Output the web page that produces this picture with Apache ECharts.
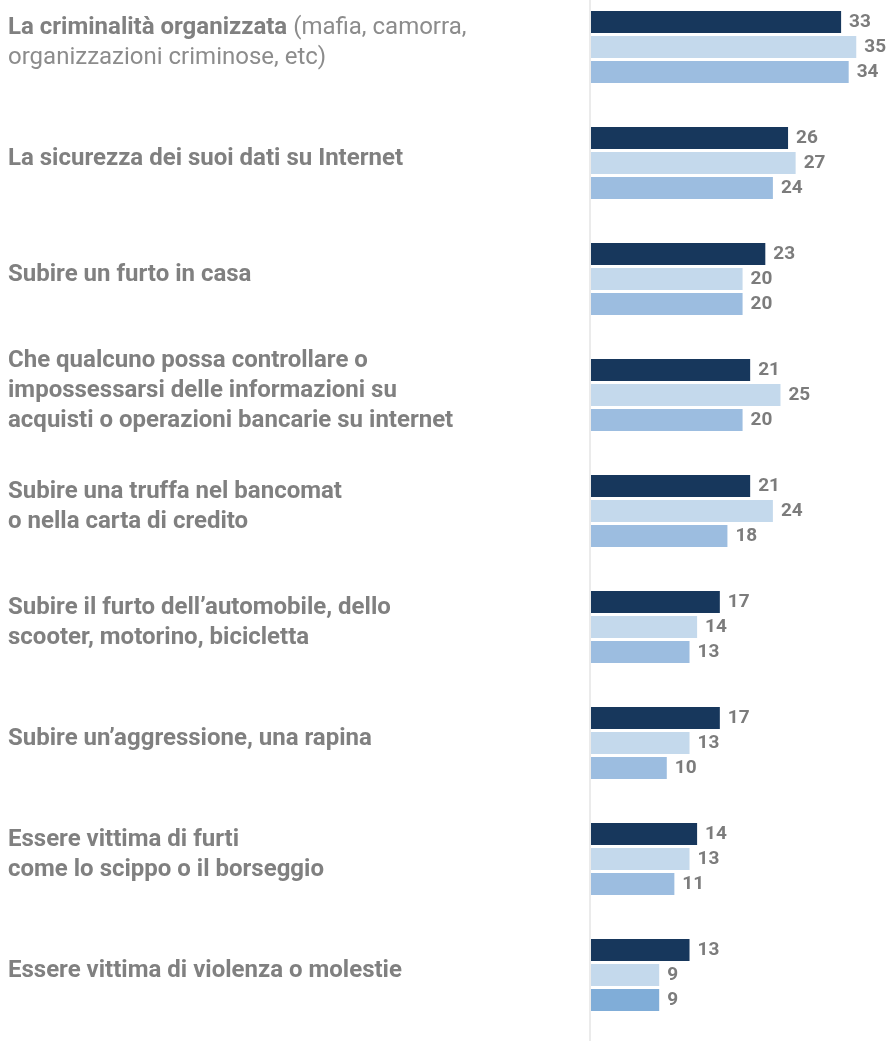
<!DOCTYPE html>
<html>
<head>
<meta charset="utf-8">
<script src="https://cdn.jsdelivr.net/npm/echarts@6/dist/echarts.min.js"></script>
<style>
  html, body { margin: 0; padding: 0; background: #ffffff; overflow: hidden; }
  body { position: relative; width: 886px; height: 1041px; }
  /* chart canvas starts slightly above the page so the first band sits near the top edge */
  #chart { position: absolute; left: 0; top: -11px; width: 886px; height: 1052px; }
</style>
</head>
<body>
<div id="chart"></div>
<script>
// Threat categories (bold part) and optional normal-weight note
const categories = [
  'La criminalità organizzata',
  'La sicurezza dei suoi dati su Internet',
  'Subire un furto in casa',
  'Che qualcuno possa controllare o\nimpossessarsi delle informazioni su\nacquisti o operazioni bancarie su internet',
  'Subire una truffa nel bancomat\no nella carta di credito',
  'Subire il furto dell’automobile, dello\nscooter, motorino, bicicletta',
  'Subire un’aggressione, una rapina',
  'Essere vittima di furti\ncome lo scippo o il borseggio',
  'Essere vittima di violenza o molestie'
];
const notes = [
  '(mafia, camorra,\norganizzazioni criminose, etc)',
  '', '', '', '', '', '', '', ''
];

// Percentages, three series per category
const seriesDark   = [33, 26, 23, 21, 21, 17, 17, 14, 13];
const seriesLight  = [35, 27, 20, 25, 24, 14, 13, 13, 9];
const seriesMedium = [34, 24, 20, 20, 18, 13, 10, 11, 9];

const FONT = 'Roboto';
const GRAY = '#808080';

function labelFor(value) {
  const idx = categories.indexOf(value);
  const boldLines = value.split('\n');
  const note = notes[idx] || '';
  if (!note) {
    return boldLines.map(l => '{b|' + l + '}').join('\n');
  }
  const noteLines = note.split('\n');
  // first note line continues the last bold line
  let out = boldLines.map(l => '{b|' + l + '}');
  out[out.length - 1] += '{n| ' + noteLines[0] + '}';
  for (let i = 1; i < noteLines.length; i++) out.push('{n|' + noteLines[i] + '}');
  return out.join('\n');
}

const valueLabel = {
  show: true,
  position: 'right',
  distance: 8,
  fontFamily: FONT,
  fontWeight: 700,
  fontSize: 19,
  color: '#7c7c7c'
};

function makeSeries(name, values, color, overrides) {
  return {
    name: name,
    type: 'bar',
    barWidth: 22,
    barGap: '14%',
    itemStyle: { color: color },
    label: valueLabel,
    data: values.map((v, i) => overrides && overrides[i]
      ? { value: v, itemStyle: { color: overrides[i] } }
      : v)
  };
}

const chart = echarts.init(document.getElementById('chart'), null, { renderer: 'canvas' });

chart.setOption({
  animation: false,
  backgroundColor: '#ffffff',
  grid: { left: 591, right: 7, top: 0, bottom: 8, containLabel: false },
  xAxis: {
    type: 'value',
    min: 0,
    max: 38,
    show: false
  },
  yAxis: {
    type: 'category',
    data: categories,
    inverse: true,
    axisLine: { show: false },
    axisTick: { show: false },
    splitLine: { show: false },
    axisLabel: {
      align: 'left',
      margin: 583,
      padding: [0, 0, 8, 0],
      formatter: labelFor,
      rich: {
        b: { fontFamily: FONT, fontWeight: 700, fontSize: 24, color: GRAY, lineHeight: 30 },
        n: { fontFamily: FONT, fontWeight: 400, fontSize: 24, color: '#8c8c8c', lineHeight: 30 }
      }
    }
  },
  graphic: [{
    type: 'line',
    shape: { x1: 590, y1: 11, x2: 590, y2: 1052 },
    style: { stroke: '#ebebeb', lineWidth: 2 },
    silent: true,
    z: 0
  }],
  series: [
    makeSeries('s1', seriesDark, '#17375c'),
    makeSeries('s2', seriesLight, '#c4d9ec'),
    makeSeries('s3', seriesMedium, '#9cbde0', { 8: '#80add8' })
  ]
});
</script>
</body>
</html>
